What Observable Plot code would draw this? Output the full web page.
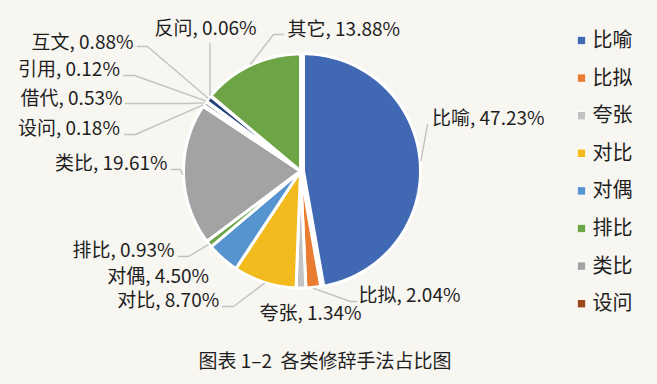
<!DOCTYPE html>
<html>
<head>
<meta charset="utf-8">
<script src="https://cdn.jsdelivr.net/npm/d3@7"></script>
<script src="https://cdn.jsdelivr.net/npm/@observablehq/plot@0.6"></script>
<style>
  html, body { margin: 0; padding: 0; background: #F8F6F1; }
  body { width: 657px; height: 384px; overflow: hidden; font-family: "Noto Sans CJK SC", sans-serif; }
  #chart svg { display: block; background: transparent; }
  #cap { width: 650px; text-align: center; font-size: 19px; line-height: 24px; margin-top: 8px; color: #1E1E1E; }
</style>
</head>
<body>
<div id="chart"></div>
<div id="cap">图表 1–2&nbsp;&nbsp;各类修辞手法占比图</div>
<script>
// ---- data ----
const categories = ["比喻","比拟","夸张","对比","对偶","排比","类比","设问","借代","引用","互文","反问","其它"];
const values     = [47.23, 2.04, 1.34, 8.70, 4.50, 0.93, 19.61, 0.18, 0.53, 0.12, 0.88, 0.06, 13.88];
const legendCategories = ["比喻","比拟","夸张","对比","对偶","排比","类比","设问"];

// ---- style ----
const palette = ["#4169B3","#E97C30","#C3C3C3","#F3BA1E","#5594CE","#6AA546","#A3A3A3","#9C4A1A","#6A6A6A","#A27A12","#27467E","#2A5F93","#6DA546"];
const W = 657, H = 340;
const cx = 300, cy = 170.5, R = 117;
const explode = {"比喻": 3};
const textColor = "#1E1E1E";
const leaderColor = "#C2C2C2";

// label layout: anchor point, text anchor, leader elbow points (edge point computed from slice angle)
const labelLayout = {
  "比喻": {x: 431.5, y: 118, anchor: "start", leader: [[427,124]]},
  "比拟": {x: 358, y: 295, anchor: "start", leader: [[356,301],[350,301]]},
  "夸张": {x: 310, y: 313, anchor: "middle", leader: null},
  "对比": {x: 218.7, y: 300, anchor: "end", leader: [[222,306],[233,306]]},
  "对偶": {x: 208.6, y: 276, anchor: "end", leader: null},
  "排比": {x: 174, y: 250, anchor: "end", leader: [[178,256],[188,256]]},
  "类比": {x: 167, y: 163, anchor: "end", leader: [[171,169],[180,169]]},
  "设问": {x: 119.4, y: 128, anchor: "end", leader: [[124,134],[135,134]]},
  "借代": {x: 122, y: 98, anchor: "end", leader: [[125,103],[188,103]]},
  "引用": {x: 119.4, y: 69, anchor: "end", leader: [[123,75],[134,75]]},
  "互文": {x: 133, y: 42, anchor: "end", leader: [[137,46],[147,46]]},
  "反问": {x: 205, y: 28, anchor: "middle", leader: [["edge",43]]},
  "其它": {x: 287, y: 29, anchor: "start", leader: [[283,34],[273,34]]}
};

// ---- geometry from data ----
const arcs = d3.pie().sort(null).value(d => d)(values);
const slicePts = [];
const labels = [];
const leaders = [];
arcs.forEach((a, i) => {
  const key = categories[i];
  const mid = (a.startAngle + a.endAngle) / 2;
  const off = explode[key] || 0;
  const ox = cx + off * Math.sin(mid), oy = cy - off * Math.cos(mid);
  slicePts.push({key, x: ox, y: oy});
  const n = Math.max(2, Math.ceil((a.endAngle - a.startAngle) / (Math.PI / 360)));
  for (let k = 0; k <= n; k++) {
    const t = a.startAngle + (a.endAngle - a.startAngle) * k / n;
    slicePts.push({key, x: ox + R * Math.sin(t), y: oy - R * Math.cos(t)});
  }
  slicePts.push({key, x: ox, y: oy});

  const L = labelLayout[key];
  labels.push({key, text: `${key}, ${values[i].toFixed(2)}%`, x: L.x, y: L.y, anchor: L.anchor});
  if (L.leader) {
    const ex = ox + (R + 1) * Math.sin(mid), ey = oy - (R + 1) * Math.cos(mid);
    L.leader.forEach(p => leaders.push({key, x: p[0] === "edge" ? ex : p[0], y: p[1]}));
    leaders.push({key, x: ex, y: ey});
  }
});

const fontFamily = '"Noto Sans CJK SC", sans-serif';
const textMark = (anchor) => Plot.text(labels.filter(d => d.anchor === anchor), {
  x: "x", y: "y", text: "text", textAnchor: anchor, lineAnchor: "middle",
  fontSize: 19, fill: textColor, fontFamily
});

const chart = Plot.plot({
  width: W, height: H, margin: 0,
  x: {domain: [0, W], range: [0, W], axis: null},
  y: {domain: [0, H], range: [0, H], axis: null},
  color: {domain: categories, range: palette},
  style: {background: "transparent", fontFamily},
  marks: [
    Plot.line(slicePts, {x: "x", y: "y", z: "key", fill: "key", stroke: "white", strokeWidth: 3, strokeLinejoin: "miter"}),
    Plot.line(leaders, {x: "x", y: "y", z: "key", stroke: leaderColor, strokeWidth: 1.4}),
    textMark("start"), textMark("middle"), textMark("end"),
    Plot.dot(legendCategories, {x: 581, y: (d, i) => 40 + i * 37.6, symbol: "square", r: 4.8, fill: d => d, stroke: "white", strokeWidth: 1}),
    Plot.text(legendCategories, {x: 592, y: (d, i) => 40 + i * 37.6, text: d => d, textAnchor: "start", lineAnchor: "middle", fontSize: 20, fill: textColor, fontFamily})
  ]
});
document.getElementById("chart").appendChild(chart);
</script>
</body>
</html>
